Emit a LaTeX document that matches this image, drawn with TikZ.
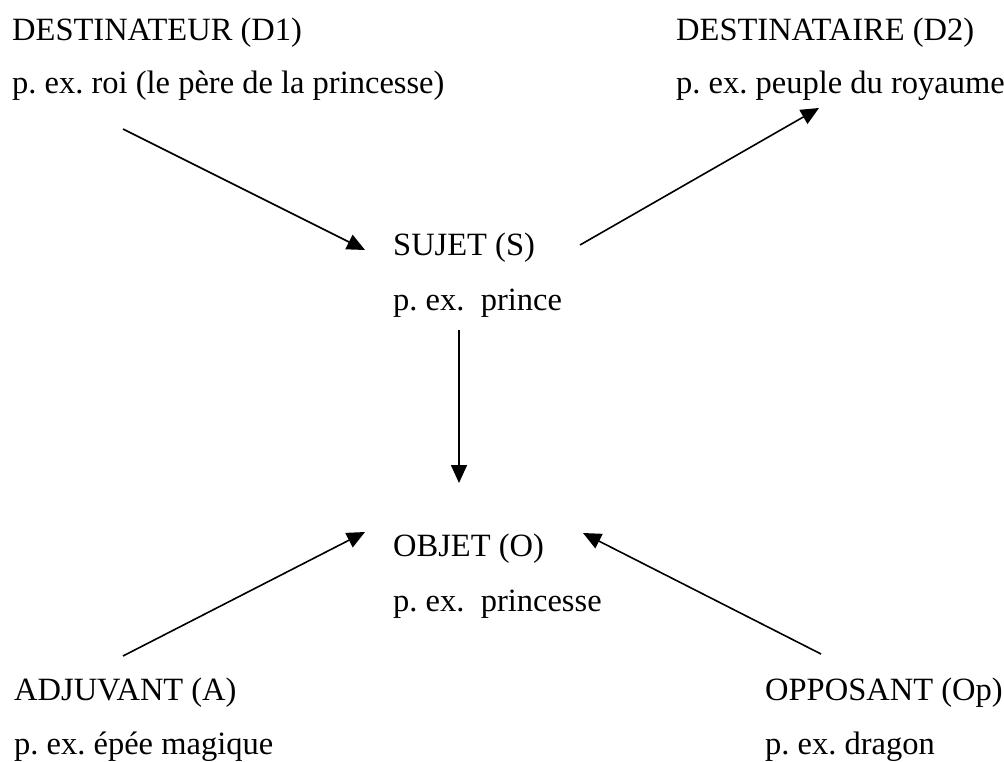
\documentclass[tikz,border=0pt]{standalone}
\usepackage{fontspec}
\setmainfont{Liberation Serif}
\usetikzlibrary{arrows.meta}
\frenchspacing
\begin{document}
\begin{tikzpicture}[x=1pt,y=-1pt,
  role/.style={anchor=base west,inner sep=0pt,font=\fontsize{32.5}{38}\selectfont},
  link/.style={line width=1.6pt,-{Triangle[length=18pt,width=16pt]}}]
\useasboundingbox (0,0) rectangle (1004,762);
% actants: name on first line, example on second
\node[role] (d1)  at (12,41)  {DESTINATEUR (D1)};
\node[role] (d1e) at (12,94)  {p. ex. roi (le père de la princesse)};
\node[role] (d2)  at (676,41) {DESTINATAIRE (D2)};
\node[role] (d2e) at (676,94) {p. ex. peuple du royaume};
\node[role] (s)   at (393,255) {SUJET (S)};
\node[role] (se)  at (393,310) {p. ex.\ \ prince};
\node[role] (o)   at (393,556) {OBJET (O)};
\node[role] (oe)  at (393,611) {p. ex.\ \ princesse};
\node[role] (a)   at (14,700) {ADJUVANT (A)};
\node[role] (ae)  at (14,754) {p. ex. épée magique};
\node[role] (op)  at (765,700) {OPPOSANT (Op)};
\node[role] (ope) at (765,754) {p. ex. dragon};
% arrow ends
\coordinate (d1out) at (123,129);
\coordinate (sin)   at (365,250);
\coordinate (sout)  at (580,245);
\coordinate (d2in)  at (819,108);
\coordinate (sdown) at (459,330);
\coordinate (oin)   at (459,483);
\coordinate (aout)  at (123,656);
\coordinate (oleft) at (365,532);
\coordinate (opout) at (821,654);
\coordinate (oright) at (583,533);
\draw[link] (d1out) -- (sin);
\draw[link] (sout) -- (d2in);
\draw[link] (sdown) -- (oin);
\draw[link] (aout) -- (oleft);
\draw[link] (opout) -- (oright);
\end{tikzpicture}
\end{document}
